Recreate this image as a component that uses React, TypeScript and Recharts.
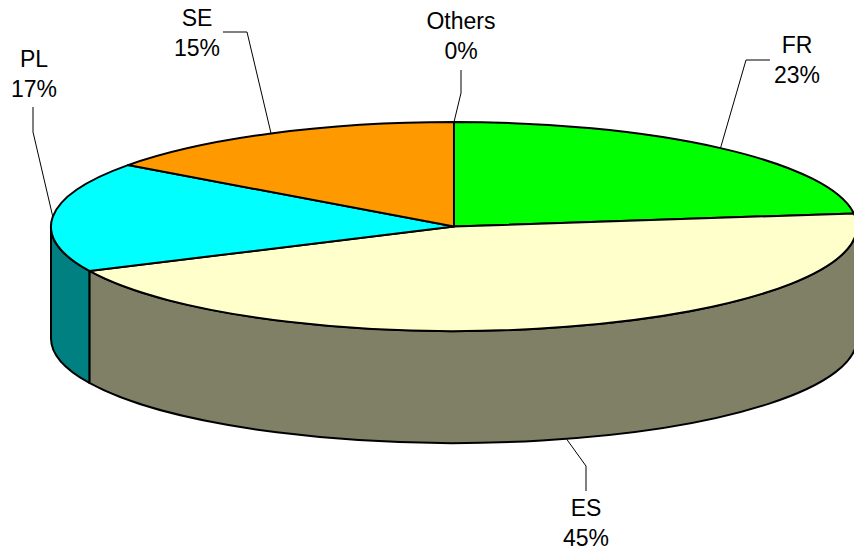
import React from 'react';
import { PieChart, Pie } from 'recharts';

// Country share, clockwise from the top of the pie
const countries = ['FR', 'ES', 'PL', 'SE', 'Others'];
const shares = [23, 45, 17, 15, 0];
const topColors = ['#00FF00', '#FFFFCC', '#00FFFF', '#FF9900', '#FF00FF'];
const wallColors = ['#008000', '#808066', '#008080', '#804D00', '#800080'];

const pieData = countries.map((name, i) => ({
	name,
	value: shares[i],
	top: topColors[i],
	wall: wallColors[i],
}));

// Ellipse of the tilted pie
const CX = 454;
const CY = 226.5;
const RX = 403;
const RY = 104.5;
const DEPTH = 112;

// Where each callout bends and where its two text lines sit
const callouts: Record<string, { elbow: number[][]; x: number; y: number }> = {
	FR: { elbow: [[746, 60], [770, 60]], x: 797, y: 53 },
	ES: { elbow: [[586, 466], [586, 491]], x: 586, y: 516 },
	PL: { elbow: [[33, 132], [33, 107]], x: 34, y: 67 },
	SE: { elbow: [[247, 32], [223, 32]], x: 197, y: 26 },
	Others: { elbow: [[461, 93], [461, 70]], x: 461, y: 29 },
};

const rad = (deg: number) => (deg * Math.PI) / 180;
const px = (deg: number) => CX + RX * Math.cos(rad(deg));
const py = (deg: number) => CY - RY * Math.sin(rad(deg));

// Leader line and text; this layer sits under the pie so lines run behind it
const LabelLayer = (props: any) => {
	const { name, value, midAngle } = props;
	const c = callouts[name];
	// the front of the pie is the wall's lower edge, the back is the rim
	const front = midAngle < 0 && midAngle > -180;
	const startY = py(midAngle) + (front ? DEPTH : 0);
	const points = [[px(midAngle), startY], ...c.elbow]
		.map((p) => p.join(','))
		.join(' ');
	const text = {
		x: c.x,
		textAnchor: 'middle' as const,
		fontFamily: 'Liberation Sans, Arial, sans-serif',
		fontSize: 23,
		fill: '#000',
	};
	return (
		<g>
			<polyline points={points} fill='none' stroke='#000' strokeWidth={1} />
			<text {...text} y={c.y}>
				{name}
			</text>
			<text {...text} y={c.y + 30}>
				{value}%
			</text>
		</g>
	);
};

// Side of a slice, only the part on the front half of the pie shows
const WallLayer = (props: any) => {
	const { startAngle, endAngle, wall } = props;
	const from = Math.min(startAngle, 0);
	const to = Math.max(endAngle, -180);
	if (from <= to) return <g />;
	const d = [
		`M${px(from)},${py(from)}`,
		`A${RX},${RY} 0 0 1 ${px(to)},${py(to)}`,
		`L${px(to)},${py(to) + DEPTH}`,
		`A${RX},${RY} 0 0 0 ${px(from)},${py(from) + DEPTH}`,
		'Z',
	].join(' ');
	return <path d={d} fill={wall} stroke='#000' strokeWidth={2} strokeLinejoin='round' />;
};

// Top face of a slice
const TopLayer = (props: any) => {
	const { startAngle, endAngle, top } = props;
	if (startAngle === endAngle) return <g />;
	const large = startAngle - endAngle > 180 ? 1 : 0;
	const d = [
		`M${CX},${CY}`,
		`L${px(startAngle)},${py(startAngle)}`,
		`A${RX},${RY} 0 ${large} 1 ${px(endAngle)},${py(endAngle)}`,
		'Z',
	].join(' ');
	return <path d={d} fill={top} stroke='#000' strokeWidth={2} strokeLinejoin='round' />;
};

const layers = [LabelLayer, WallLayer, TopLayer];

const App = () => {
	return (
		<div style={{ position: 'absolute', left: 0, top: 0 }}>
			<PieChart width={854} height={551} margin={{ top: 0, right: 0, bottom: 0, left: 0 }}>
				{layers.map((Layer, i) => (
					<Pie
						key={i}
						data={pieData}
						dataKey='value'
						nameKey='name'
						cx={CX}
						cy={CY}
						innerRadius={0}
						outerRadius={RX}
						startAngle={90}
						endAngle={-270}
						stroke='none'
						shape={Layer}
						isAnimationActive={false}
					/>
				))}
			</PieChart>
		</div>
	);
};

export default App;
